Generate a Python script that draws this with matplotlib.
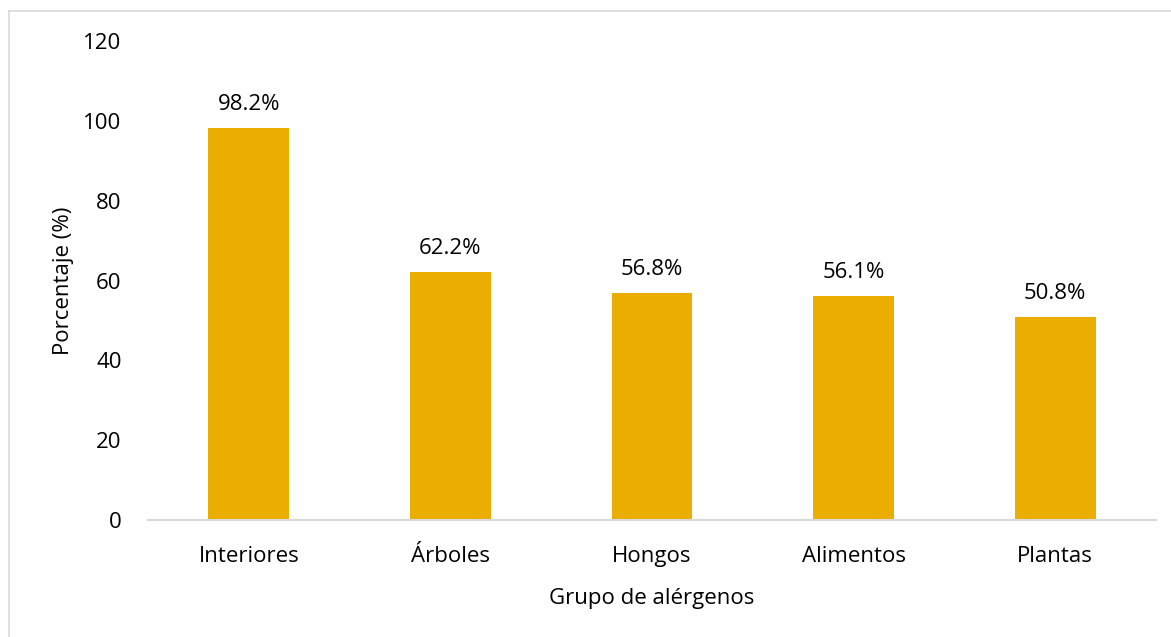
import matplotlib
matplotlib.use("Agg")
import matplotlib.pyplot as plt
from matplotlib.lines import Line2D

# Porcentaje de sensibilización por grupo de alérgenos
grupos = ["Interiores", "Árboles", "Hongos", "Alimentos", "Plantas"]
porcentajes = [98.2, 62.2, 56.8, 56.1, 50.8]

plt.rcParams['font.family'] = ['Open Sans', 'DejaVu Sans']
fs = 16

fig = plt.figure(figsize=(11.71, 6.37), dpi=100)
ax = fig.add_axes([0.1264, 0.1837, 0.8608, 0.7519])

x = range(len(grupos))
bars = ax.bar(x, porcentajes, width=0.4, color='#EAAD00', zorder=2)

for b, v in zip(bars, porcentajes):
    ax.text(b.get_x() + b.get_width() / 2, v + 3.3, f"{v}%",
            ha='center', va='bottom', fontsize=fs, color='#000000')

ax.set_xlim(-0.5, len(grupos) - 0.5)
ax.set_ylim(0, 120)
ax.set_yticks(range(0, 121, 20))
ax.set_xticks(list(x))
ax.set_xticklabels(grupos)
ax.tick_params(axis='both', length=0, labelsize=fs, colors='#000000')
ax.tick_params(axis='y', pad=19)
ax.tick_params(axis='x', pad=19)

for side in ['top', 'right', 'left']:
    ax.spines[side].set_visible(False)
ax.spines['bottom'].set_color('#D9D9D9')
ax.spines['bottom'].set_linewidth(1.5)

ax.set_ylabel("Porcentaje (%)", fontsize=fs, labelpad=7)
ax.set_xlabel("Grupo de alérgenos", fontsize=fs, labelpad=15)

# borde exterior (solo izquierda y arriba)
fig.lines.append(Line2D([8.5 / 1171, 8.5 / 1171], [0, 1 - 10.5 / 637],
                        transform=fig.transFigure, color='#D9D9D9', linewidth=1.2))
fig.lines.append(Line2D([8.5 / 1171, 1], [1 - 10.5 / 637, 1 - 10.5 / 637],
                        transform=fig.transFigure, color='#D9D9D9', linewidth=1.2))

fig.savefig("out.png", dpi=100)
